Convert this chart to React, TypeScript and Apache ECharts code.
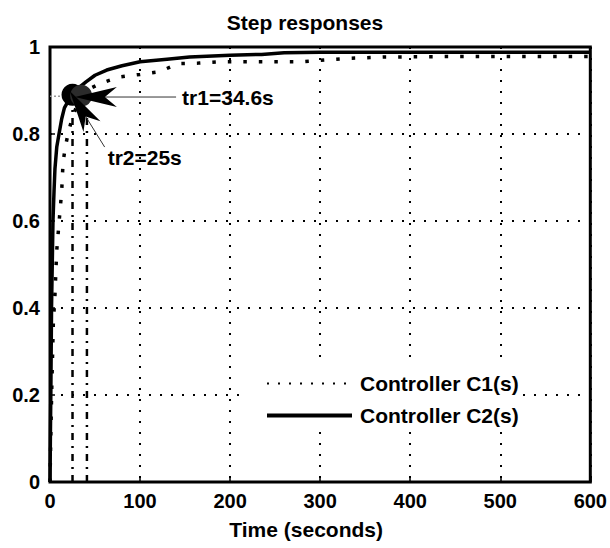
import React, { useEffect, useRef } from "react";
import * as echarts from "echarts";

// Controller C1(s) step response (dotted)
const timeC1 = [0, 1, 1.9, 3.7, 5.5, 7.4, 11, 13, 14.5, 17, 20, 25, 30, 34.6, 45, 57, 77, 100, 121, 143, 165, 187, 230, 277, 333, 370, 440, 520, 600];
const valuesC1 = [0, 0.12, 0.21, 0.365, 0.43, 0.53, 0.62, 0.67, 0.735, 0.77, 0.8, 0.84, 0.865, 0.885, 0.905, 0.917, 0.931, 0.937, 0.943, 0.962, 0.963, 0.966, 0.966, 0.966, 0.974, 0.977, 0.978, 0.978, 0.978];

// Controller C2(s) step response (solid)
const timeC2 = [0, 0.5, 1, 1.7, 2.5, 3.3, 4.5, 5.5, 7.5, 10, 13, 16, 20, 25, 30, 40, 50, 63, 80, 100, 130, 155, 200, 235, 260, 300, 400, 500, 600];
const valuesC2 = [0, 0.12, 0.22, 0.4, 0.5, 0.6, 0.67, 0.72, 0.77, 0.8, 0.835, 0.86, 0.875, 0.89, 0.903, 0.92, 0.935, 0.947, 0.957, 0.966, 0.972, 0.977, 0.981, 0.983, 0.987, 0.988, 0.988, 0.988, 0.988];

const seriesNames = ["Controller C1(s)", "Controller C2(s)"];

// rise-time markers
const riseTimes = [25, 34.6];
const riseValues = [0.89, 0.888];
const riseColors = ["#000000", "#2b2b2b"];

// vertical dash-dot guides
const guideTimes = [25, 41];
const guideTop = 0.86;
// horizontal guide
const hGuideTimes = [0, 20];
const hGuideValue = 0.887;

// annotations: [tipT, tipV, lineEndT, lineEndV, textT, textV]
const annotationLabels = ["tr1=34.6s", "tr2=25s"];
const annotationTips = [[27.6, 0.885], [22, 0.899]];
const annotationLineEnds = [[140, 0.885], [60.7, 0.77]];
const annotationTextPos = [[146.7, 0.885], [64, 0.745]];

const xTicks = { min: 0, max: 600, interval: 100 };
const yTicks = { min: 0, max: 1, interval: 0.2 };

const FONT = "Liberation Sans";

export default function App() {
  const ref = useRef<HTMLDivElement>(null);
  useEffect(() => {
    if (!ref.current) return;
    const chart = echarts.init(ref.current, undefined, { renderer: "svg" });
    const c1 = timeC1.map((t, i) => [t, valuesC1[i]]);
    const c2 = timeC2.map((t, i) => [t, valuesC2[i]]);
    const annData = annotationLabels.map((_, i) => [
      annotationTips[i][0], annotationTips[i][1],
      annotationLineEnds[i][0], annotationLineEnds[i][1],
      annotationTextPos[i][0], annotationTextPos[i][1],
    ]);
    const gridLine = { show: true, lineStyle: { color: "#000", width: 2, type: [2, 9] as any } };
    const guideSeries = guideTimes.map((t) => ({
      type: "line",
      data: [[t, 0], [t, guideTop]],
      symbol: "none",
      silent: true,
      lineStyle: { color: "#000", width: 2.5, type: [7, 6, 2, 6] },
      z: 3,
    }));
    chart.setOption({
      animation: false,
      backgroundColor: "#fff",
      title: {
        text: "Step responses",
        left: "center",
        top: 12,
        padding: 0,
        textStyle: { fontFamily: FONT, fontWeight: "bold", fontSize: 21, color: "#000" },
      },
      grid: {
        left: 50,
        right: 16,
        top: 47,
        bottom: 66,
        show: true,
        borderColor: "#000",
        borderWidth: 3,
        backgroundColor: "#fff",
      },
      legend: {
        data: [
          { name: seriesNames[0], lineStyle: { width: 2, type: [2, 9] } },
          { name: seriesNames[1], lineStyle: { width: 4 } },
        ],
        orient: "vertical",
        left: 248,
        top: 362,
        padding: [11, 4, 6, 17],
        backgroundColor: "#fff",
        itemWidth: 85,
        itemHeight: 20,
        itemGap: 11,
        itemStyle: { opacity: 0, color: "transparent", borderWidth: 0 },
        textStyle: { fontFamily: FONT, fontWeight: "bold", fontSize: 21, color: "#000", padding: [0, 0, 0, 3] },
        z: 10,
      },
      xAxis: {
        type: "value",
        min: xTicks.min,
        max: xTicks.max,
        interval: xTicks.interval,
        name: "Time (seconds)",
        nameLocation: "middle",
        nameGap: 37,
        nameTextStyle: { fontFamily: FONT, fontWeight: "bold", fontSize: 21, color: "#000", padding: [0, 28, 0, 0] },
        axisLine: { show: false },
        axisTick: { show: true, inside: true, length: 5, lineStyle: { color: "#000", width: 1.5 } },
        axisLabel: { fontFamily: FONT, fontWeight: "bold", fontSize: 20, color: "#000", margin: 9 },
        splitLine: gridLine,
      },
      yAxis: {
        type: "value",
        min: yTicks.min,
        max: yTicks.max,
        interval: yTicks.interval,
        axisLine: { show: false },
        axisTick: { show: true, inside: true, length: 5, lineStyle: { color: "#000", width: 1.5 } },
        axisLabel: { fontFamily: FONT, fontWeight: "bold", fontSize: 20, color: "#000", margin: 10 },
        splitLine: gridLine,
      },
      series: [
        ...guideSeries,
        {
          type: "line",
          data: [[hGuideTimes[0], hGuideValue], [hGuideTimes[1], hGuideValue]],
          symbol: "none",
          silent: true,
          lineStyle: { color: "#999", width: 1.5, type: [2, 2] },
          z: 3,
        },
        {
          name: seriesNames[0],
          type: "line",
          data: c1,
          symbol: "none",
          lineStyle: { color: "#000", width: 3.5, type: [3.5, 12] },
          itemStyle: { color: "#000" },
          z: 4,
        },
        {
          name: seriesNames[1],
          type: "line",
          data: c2,
          symbol: "none",
          lineStyle: { color: "#000", width: 3.5 },
          itemStyle: { color: "#000" },
          z: 5,
        },
        {
          type: "scatter",
          data: riseTimes.map((t, i) => ({ value: [t, riseValues[i]], itemStyle: { color: riseColors[i], opacity: 1 } })),
          symbol: "circle",
          symbolSize: 22,
          silent: true,
          itemStyle: { opacity: 1 },
          z: 6,
        },
        {
          type: "custom",
          data: annData,
          silent: true,
          clip: false,
          z: 7,
          renderItem: (params: any, api: any) => {
            const i = params.dataIndex;
            const tip = api.coord([api.value(0), api.value(1)]);
            const end = api.coord([api.value(2), api.value(3)]);
            const txt = api.coord([api.value(4), api.value(5)]);
            const dx = end[0] - tip[0];
            const dy = end[1] - tip[1];
            const len = Math.hypot(dx, dy) || 1;
            const ux = dx / len, uy = dy / len;
            const nx = -uy, ny = ux;
            const L = 42, W = 10, N = 30;
            return {
              type: "group",
              children: [
                {
                  type: "line",
                  shape: { x1: tip[0] + ux * N, y1: tip[1] + uy * N, x2: end[0], y2: end[1] },
                  style: { stroke: "#333", lineWidth: 1 },
                },
                {
                  type: "polygon",
                  shape: {
                    points: [
                      [tip[0], tip[1]],
                      [tip[0] + ux * L + nx * W, tip[1] + uy * L + ny * W],
                      [tip[0] + ux * N, tip[1] + uy * N],
                      [tip[0] + ux * L - nx * W, tip[1] + uy * L - ny * W],
                    ],
                  },
                  style: { fill: "#000" },
                },
                {
                  type: "text",
                  x: txt[0],
                  y: txt[1],
                  style: {
                    text: annotationLabels[i],
                    fontFamily: FONT,
                    fontWeight: "bold",
                    fontSize: 21,
                    fill: "#000",
                    align: "left",
                    verticalAlign: "middle",
                  },
                },
              ],
            };
          },
        },
      ],
    });
    return () => chart.dispose();
  }, []);
  return <div ref={ref} style={{ width: 610, height: 548, position: "absolute", left: 0, top: 0 }} />;
}
